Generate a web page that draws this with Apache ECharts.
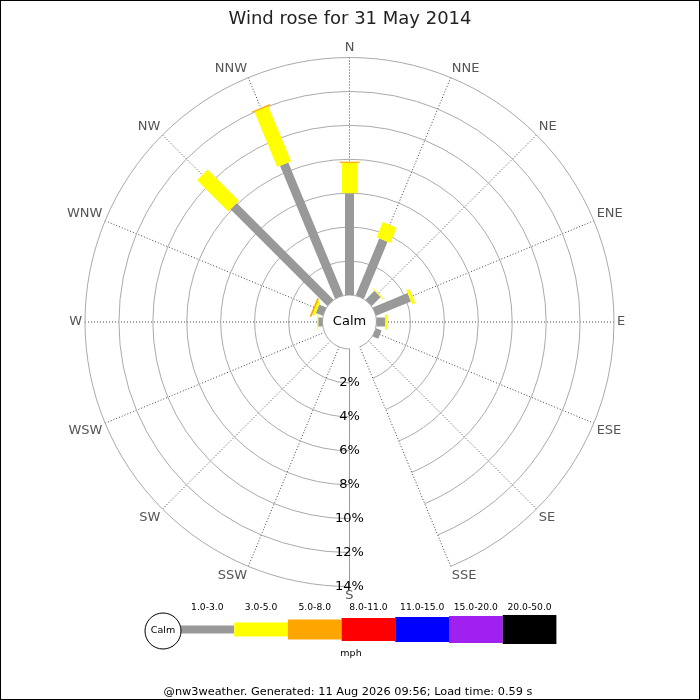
<!DOCTYPE html>
<html>
<head>
<meta charset="utf-8">
<script src="https://cdn.jsdelivr.net/npm/echarts@6/dist/echarts.min.js"></script>
<style>
  html, body { margin: 0; padding: 0; background: #fff; }
  #wrap { position: relative; width: 700px; height: 700px; }
  #chart { position: absolute; left: 0; top: 0; width: 700px; height: 700px; }
  #frame { position: absolute; left: 0; top: 0; width: 700px; height: 700px; box-sizing: border-box; border: 1px solid #000; pointer-events: none; }
</style>
</head>
<body>
<div id="wrap"><div id="chart"></div><div id="frame"></div></div>
<script>
// ---- data ----
const directions = ['N','NNE','NE','ENE','E','ESE','SE','SSE','S','SSW','SW','WSW','W','WNW','NW','NNW'];
const speedBins = ['1.0-3.0','3.0-5.0','5.0-8.0','8.0-11.0','11.0-15.0','15.0-20.0','20.0-50.0'];
// percentage of time per direction, per speed bin (mph)
const pct_1_3   = [6.00, 3.64, 0.75, 2.22, 0.50, 0.35, 0, 0, 0, 0, 0, 0, 0.25, 0.45, 8.07, 8.48];
const pct_3_5   = [1.79, 0.96, 0.06, 0.20, 0.12, 0,    0, 0, 0, 0, 0, 0, 0.06, 0.15, 2.60, 3.52];
const pct_5_8   = [0.07, 0,    0,    0,    0,    0,    0, 0, 0, 0, 0, 0, 0,    0.10, 0,    0.07];
const pct_8_11  = [0,0,0,0,0,0,0,0,0,0,0,0,0,0,0,0];
const pct_11_15 = [0,0,0,0,0,0,0,0,0,0,0,0,0,0,0,0];
const pct_15_20 = [0,0,0,0,0,0,0,0,0,0,0,0,0,0,0,0];
const pct_20_50 = [0,0,0,0,0,0,0,0,0,0,0,0,0,0,0,0];
const radiusTicks = [0, 2, 4, 6, 8, 10, 12, 14];
const titleText = 'Wind rose for 31 May 2014';
const unitText = 'mph';
const footerText = '@nw3weather. Generated: 11 Aug 2026 09:56; Load time: 0.59 s';

// ---- styles ----
const binColors = ['#999999', '#ffff00', '#ffa500', '#ff0000', '#0000ff', '#a020f0', '#000000'];
const binWidths = [9, 15, 20, 23, 25, 27, 29];
const FONT = 'DejaVu Sans';

const binValues = [pct_1_3, pct_3_5, pct_5_8, pct_8_11, pct_11_15, pct_15_20, pct_20_50];
// axis order starts at S so that the radius labels run down the south spoke
const axisOrder = directions.slice(8).concat(directions.slice(0, 8));
const axisIndexOf = i => (i + 8) % 16;

const cum = directions.map(() => 0);
const series = binValues.map((vals, b) => {
  const data = [];
  vals.forEach((v, i) => {
    const s = cum[i];
    const e = s + v;
    cum[i] = e;
    if (v > 0) data.push([s, e, axisIndexOf(i)]);
  });
  const width = binWidths[b];
  const color = binColors[b];
  return {
    type: 'custom',
    name: speedBins[b],
    coordinateSystem: 'polar',
    encode: { radius: 1, angle: 2 },
    data: data,
    z: 5,
    renderItem: function (params, api) {
      const s = api.value(0), e = api.value(1), k = api.value(2);
      const p0 = api.coord([s, k]);
      const p1 = api.coord([e, k]);
      const a = api.coord([0, k]);
      const q = api.coord([14, k]);
      let ux = q[0] - a[0], uy = q[1] - a[1];
      const len = Math.sqrt(ux * ux + uy * uy) || 1;
      ux /= len; uy /= len;
      const hw = width / 2;
      const nx = -uy * hw, ny = ux * hw;
      return {
        type: 'polygon',
        shape: { points: [
          [p0[0] + nx, p0[1] + ny], [p1[0] + nx, p1[1] + ny],
          [p1[0] - nx, p1[1] - ny], [p0[0] - nx, p0[1] - ny]
        ] },
        style: { fill: color, stroke: null }
      };
    }
  };
});

// ---- legend graphics ----
const legendX0 = 180.5, legendW = 53.7, legendCy = 629.5;
const graphic = [];
graphic.push({
  type: 'text', x: 349.5, y: 322, z: 10,
  style: { text: 'Calm', fill: '#000', font: '13px "DejaVu Sans"', align: 'center', verticalAlign: 'middle' }
});
graphic.push({
  type: 'circle', shape: { cx: 163, cy: 631, r: 18 }, z: 10,
  style: { fill: '#fff', stroke: '#000', lineWidth: 1 }
});
graphic.push({
  type: 'text', x: 163, y: 631, z: 11,
  style: { text: 'Calm', fill: '#000', font: '9.5px "DejaVu Sans"', align: 'center', verticalAlign: 'middle' }
});
speedBins.forEach((lab, b) => {
  const h = [8, 14, 20, 23, 25, 27, 29][b];
  const x = legendX0 + b * legendW;
  graphic.push({
    type: 'rect', shape: { x: x, y: legendCy - h / 2, width: legendW, height: h }, z: 9,
    style: { fill: binColors[b] }
  });
  graphic.push({
    type: 'text', x: x + legendW / 2, y: 607.5, z: 10,
    style: { text: lab, fill: '#000', font: '9.2px "DejaVu Sans"', align: 'center', verticalAlign: 'middle' }
  });
});
graphic.push({
  type: 'text', x: 351, y: 654, z: 10,
  style: { text: unitText, fill: '#000', font: '9.5px "DejaVu Sans"', align: 'center', verticalAlign: 'middle' }
});
graphic.push({
  type: 'text', x: 348, y: 692.5, z: 10,
  style: { text: footerText, fill: '#000', font: '11.3px "DejaVu Sans"', align: 'center', verticalAlign: 'middle' }
});

const chart = echarts.init(document.getElementById('chart'), null, { renderer: 'canvas' });
chart.setOption({
  animation: false,
  backgroundColor: '#fff',
  textStyle: { fontFamily: FONT },
  title: {
    text: titleText, left: 'center', top: 5,
    textStyle: { fontFamily: FONT, fontSize: 18, fontWeight: 'normal', color: '#222' }
  },
  polar: { center: [349.5, 322], radius: [27, 264.5] },
  angleAxis: {
    type: 'category',
    data: axisOrder,
    boundaryGap: false,
    startAngle: 270,
    clockwise: true,
    axisLine: { show: false },
    axisTick: { show: false },
    axisLabel: { color: '#555', fontSize: 13, fontFamily: FONT, margin: 3 },
    splitLine: { show: true, lineStyle: { type: [1, 2], color: '#444', width: 1 } }
  },
  radiusAxis: {
    type: 'value',
    min: radiusTicks[0],
    max: radiusTicks[radiusTicks.length - 1],
    interval: 2,
    axisLine: { show: true, lineStyle: { type: [2, 1], color: '#999', width: 1 } },
    axisTick: { show: false },
    axisLabel: {
      formatter: v => (v === 0 ? '' : v + '%'),
      color: '#000', fontSize: 13, fontFamily: FONT, margin: 0,
      align: 'center', verticalAlign: 'middle', rotate: 0,
      padding: [4, 0, 0, 0]
    },
    splitLine: { show: true, lineStyle: { color: '#aaa', width: 1 } },
    z: 3
  },
  graphic: graphic,
  series: series
});
</script>
</body>
</html>
